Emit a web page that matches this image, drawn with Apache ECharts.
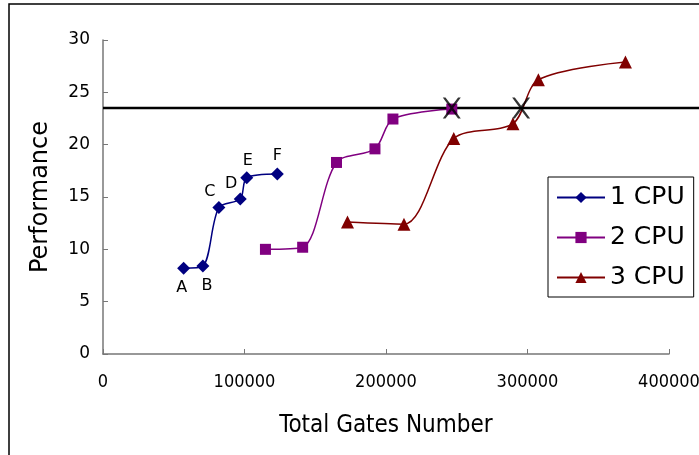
<!DOCTYPE html>
<html>
<head>
<meta charset="utf-8">
<script src="https://cdn.jsdelivr.net/npm/echarts@6/dist/echarts.min.js"></script>
<style>
  html, body { margin: 0; padding: 0; background: #fff; }
  #chart { width: 699px; height: 455px; }
</style>
</head>
<body>
<div id="chart"></div>
<script>
// values
const cpu1Gates = [57000, 70600, 81900, 97000, 101600, 123200];
const cpu1Perf = [8.2, 8.4, 14.0, 14.8, 16.85, 17.2];
const cpu1Labels = ['A', 'B', 'C', 'D', 'E', 'F'];

const cpu2Gates = [114800, 141100, 165000, 192200, 204900, 246500];
const cpu2Perf = [10.0, 10.2, 18.3, 19.6, 22.45, 23.4];

const cpu3Gates = [172800, 212700, 247900, 289700, 307700, 369200];
const cpu3Perf = [12.6, 12.4, 20.6, 22.0, 26.2, 27.9];

const targetPerf = 23.5;
const crossGates = [246500, 295500];

const seriesNames = ['1 CPU', '2 CPU', '3 CPU'];
const xTicks = [0, 100000, 200000, 300000, 400000];
const yTicks = [0, 5, 10, 15, 20, 25, 30];

// label placement for the A..F points
const labelPlace = [
    { position: 'bottom', offset: [-2, 0] },
    { position: 'bottom', offset: [4, 0] },
    { position: 'top', offset: [-9, 4] },
    { position: 'top', offset: [-9, 4] },
    { position: 'top', offset: [1, 3] },
    { position: 'top', offset: [0, 1] }
];

const pair = (xs, ys) => xs.map((x, i) => [x, ys[i]]);

const cpu1Data = cpu1Gates.map((x, i) => ({
    value: [x, cpu1Perf[i]],
    name: cpu1Labels[i],
    label: Object.assign({ show: true, formatter: cpu1Labels[i] }, labelPlace[i])
}));

const chart = echarts.init(document.getElementById('chart'));

// thick X glyph for the crossing points
const xMark = 'path://M0,0L3,0L10,7.8L17,0L20,0L11.5,10L20,20L17,20L10,12.2L3,20L0,20L8.5,10Z';

// plot area: x 103..669 for 0..400000, the target line runs on to the image edge
const plotLeft = 103, plotRight = 669, pageW = 699;
const wideMax = xTicks[xTicks.length - 1] * (pageW - plotLeft) / (plotRight - plotLeft);

const option = {
    animation: false,
    textStyle: { fontFamily: 'DejaVu Sans' },
    graphic: [{
        type: 'rect',
        shape: { x: 9, y: 4, width: 720, height: 480 },
        style: { fill: 'none', stroke: '#000', lineWidth: 1.5 },
        z: -1
    }],
    grid: [
        { left: plotLeft, right: pageW - plotRight, top: 40, bottom: 101, outerBoundsMode: 'none' },
        { left: plotLeft, right: 0, top: 40, bottom: 101, outerBoundsMode: 'none' }
    ],
    legend: {
        data: seriesNames,
        orient: 'vertical',
        left: 548,
        top: 177,
        itemWidth: 48,
        itemHeight: 14,
        itemGap: 15,
        padding: [8, 9, 7, 8],
        borderColor: '#000',
        borderWidth: 1,
        borderRadius: 0,
        textStyle: { fontSize: 25, lineHeight: 24, color: '#000', fontFamily: 'DejaVu Sans' }
    },
    xAxis: [{
        type: 'value',
        min: xTicks[0],
        max: xTicks[xTicks.length - 1],
        interval: 100000,
        name: 'Total Gates Number',
        nameLocation: 'middle',
        nameGap: 60,
        nameTextStyle: { fontSize: 24, color: '#000', fontFamily: 'DejaVu Sans Condensed' },
        splitLine: { show: false },
        axisLine: { lineStyle: { color: '#777', width: 1.5 } },
        axisTick: { inside: true, length: 5, lineStyle: { color: '#777' } },
        axisLabel: {
            fontSize: 18, color: '#000', margin: 19, fontFamily: 'DejaVu Sans Condensed',
            formatter: v => String(v)
        }
    }, {
        type: 'value',
        gridIndex: 1,
        min: 0,
        max: wideMax,
        show: false
    }],
    yAxis: [{
        type: 'value',
        min: yTicks[0],
        max: yTicks[yTicks.length - 1],
        interval: 5,
        name: 'Performance',
        nameLocation: 'middle',
        nameGap: 50,
        nameTextStyle: { fontSize: 24, color: '#000' },
        splitLine: { show: false },
        axisLine: { show: true, lineStyle: { color: '#777', width: 1.5 } },
        axisTick: { show: true, inside: true, length: 5, lineStyle: { color: '#777' } },
        axisLabel: { fontSize: 17, color: '#000', margin: 13 }
    }, {
        type: 'value',
        gridIndex: 1,
        min: yTicks[0],
        max: yTicks[yTicks.length - 1],
        show: false
    }],
    series: [
        {
            name: seriesNames[0],
            type: 'line',
            smooth: 0.3,
            symbol: 'diamond',
            symbolSize: 13,
            color: '#000080',
            lineStyle: { width: 1.5 },
            label: { color: '#000', fontSize: 16, distance: 5 },
            data: cpu1Data
        },
        {
            name: seriesNames[1],
            type: 'line',
            smooth: 0.3,
            symbol: 'rect',
            symbolSize: 11,
            color: '#800080',
            lineStyle: { width: 1.5 },
            data: pair(cpu2Gates, cpu2Perf)
        },
        {
            name: seriesNames[2],
            type: 'line',
            smooth: 0.3,
            symbol: 'triangle',
            symbolSize: 13,
            color: '#800000',
            lineStyle: { width: 1.5 },
            data: pair(cpu3Gates, cpu3Perf)
        },
        {
            name: 'target',
            type: 'line',
            xAxisIndex: 1,
            yAxisIndex: 1,
            symbol: 'none',
            color: '#000',
            lineStyle: { width: 2.5, color: '#000' },
            z: 3,
            data: [[0, targetPerf], [wideMax, targetPerf]]
        },
        {
            name: 'cross',
            type: 'scatter',
            symbol: xMark,
            symbolSize: [18, 21],
            itemStyle: { color: '#000' },
            z: 4,
            data: crossGates.map(x => [x, targetPerf])
        }
    ]
};

chart.setOption(option);
</script>
</body>
</html>
